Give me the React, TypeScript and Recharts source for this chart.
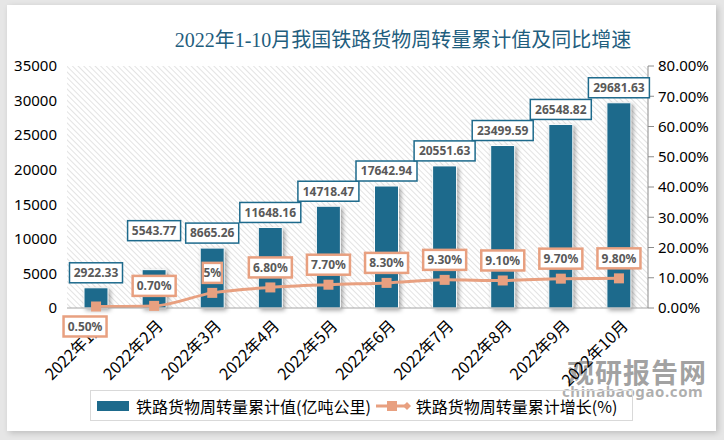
import React from 'react'
import {
  ComposedChart, Bar, Line, XAxis, YAxis, CartesianGrid, LabelList,
} from 'recharts'

// data
const months = ['2022年1月', '2022年2月', '2022年3月', '2022年4月', '2022年5月', '2022年6月', '2022年7月', '2022年8月', '2022年9月', '2022年10月']
const cumValues = [2922.33, 5543.77, 8665.26, 11648.16, 14718.47, 17642.94, 20551.63, 23499.59, 26548.82, 29681.63]
const growthValues = [0.5, 0.7, 5, 6.8, 7.7, 8.3, 9.3, 9.1, 9.7, 9.8]
const growthLabels = ['0.50%', '0.70%', '5%', '6.80%', '7.70%', '8.30%', '9.30%', '9.10%', '9.70%', '9.80%']
const leftTicks = [0, 5000, 10000, 15000, 20000, 25000, 30000, 35000]
const rightTicks = [0, 10, 20, 30, 40, 50, 60, 70, 80]

const data = months.map((m, i) => ({
  month: m,
  value: cumValues[i],
  growth: growthValues[i],
  label: growthLabels[i],
}))

const NAVY = '#1D6A8C'
const SALMON = '#E8A080'
const LABEL_FONT = '"Noto Sans", "DejaVu Sans", sans-serif'
const CJK = '"Noto Sans CJK SC", "Noto Sans", sans-serif'

// boxed label on top of the bars
const BarValueLabel = (props: any) => {
  const { x, y, width, value, index } = props
  const text = Number(value).toFixed(2)
  const w = text.length * 8 - 3
  const h = 20
  const cx = x + width / 2
  // 2月 label is lifted so it clears the growth label
  const bottom = y - 5 - (index === 1 ? 24 : 0)
  return (
    <g>
      <rect x={cx - w / 2} y={bottom - h} width={w} height={h} fill="#fff" stroke={NAVY} strokeWidth={1.5} />
      <text x={cx} y={bottom - h / 2} dy="0.36em" textAnchor="middle" fontSize={12} fontWeight={700}
        fontFamily={LABEL_FONT} fill="#595959">{text}</text>
    </g>
  )
}

const GrowthLabel = (props: any) => {
  const { x, y, index } = props
  const text = growthLabels[index]
  const w = text.length * 8 + 3
  const h = 20
  const below = index === 0
  const cx = below ? x - 11 : x
  const top = below ? y + 10 : y - 10 - h
  return (
    <g>
      <rect x={cx - w / 2} y={top} width={w} height={h} fill="#fff" stroke={SALMON} strokeWidth={2.5} />
      <text x={cx} y={top + h / 2} dy="0.36em" textAnchor="middle" fontSize={12} fontWeight={700}
        fontFamily={LABEL_FONT} fill="#595959">{text}</text>
    </g>
  )
}

const SquareDot = (props: any) => {
  const { cx, cy } = props
  if (cx == null || cy == null) return null
  return <rect x={cx - 5} y={cy - 5} width={10} height={10} fill={SALMON} />
}

export default function App() {
  return (
    <div style={{ position: 'absolute', left: 0, top: 0, width: 724, height: 440, background: '#e6e6e6', overflow: 'hidden' }}>
      <div style={{ position: 'absolute', left: 7, top: 5, width: 709, height: 426, background: '#fff', boxShadow: '2px 2px 6px rgba(0,0,0,0.18)' }} />

      <div style={{ position: 'absolute', left: 0, top: 24, width: 806, textAlign: 'center', fontFamily: '"Liberation Serif", "Noto Sans CJK SC", serif', fontSize: 20, color: '#1F5E7E', whiteSpace: 'nowrap' }}>
        2022年1-10月我国铁路货物周转量累计值及同比增速
      </div>

      {/* watermark, under the chart */}
      <div style={{ position: 'absolute', left: 567, top: 352, fontFamily: CJK, fontWeight: 700, fontSize: 27, color: 'rgba(120,120,120,0.7)', letterSpacing: 1 }}>观研报告网</div>
      <div style={{ position: 'absolute', left: 562, top: 381, fontFamily: LABEL_FONT, fontWeight: 700, fontSize: 15, color: 'rgba(140,140,140,0.7)', letterSpacing: 0.6 }}>chinabaogao.com</div>

      <div style={{ position: 'absolute', left: 0, top: 0 }}>
        <ComposedChart width={724} height={440} data={data} margin={{ top: 66, right: 0, left: 0, bottom: 52 }}>
          <defs>
            <pattern id="hatch" width="4" height="4" patternUnits="userSpaceOnUse" patternTransform="rotate(-45)">
              <rect width="4" height="4" fill="#fff" />
              <line x1="0" y1="0" x2="0" y2="4" stroke="#d4d4d4" strokeWidth="1.3" />
            </pattern>
          </defs>
          <CartesianGrid horizontal={false} vertical={false} fill="url(#hatch)" />
          <XAxis dataKey="month" interval={0} height={80} tickLine={false} axisLine={{ stroke: '#a6a6a6' }}
            angle={-45} textAnchor="end" tickMargin={5} dx={2}
            tick={{ fontSize: 16, fill: '#000', fontFamily: CJK }} />
          <YAxis yAxisId="left" width={67} domain={[0, 35000]} ticks={leftTicks} axisLine={false} tickLine={false}
            tickMargin={4} tick={{ fontSize: 15, fill: '#000', fontFamily: LABEL_FONT }} />
          <YAxis yAxisId="right" orientation="right" width={76} domain={[0, 80]} ticks={rightTicks}
            tickFormatter={(v: number) => `${v.toFixed(2)}%`}
            axisLine={{ stroke: '#8c8c8c' }} tickLine={{ stroke: '#8c8c8c' }} tickSize={6} tickMargin={4}
            tick={{ fontSize: 15, fill: '#000', fontFamily: LABEL_FONT, textAnchor: 'start' }} />
          <Bar yAxisId="left" dataKey="value" barSize={24} fill={NAVY} stroke="#fff" strokeWidth={1}
            style={{ filter: 'drop-shadow(2px 2px 2px rgba(0,0,0,0.35))' }} isAnimationActive={false}>
            <LabelList dataKey="value" content={BarValueLabel} />
          </Bar>
          <Line yAxisId="right" dataKey="growth" type="monotone" stroke={SALMON} strokeWidth={3}
            dot={SquareDot} activeDot={false} isAnimationActive={false}>
            <LabelList dataKey="label" content={GrowthLabel} />
          </Line>
        </ComposedChart>
      </div>

      {/* legend */}
      <div style={{ position: 'absolute', left: 90, top: 390, width: 541, height: 29, border: '1px solid #d9d9d9', background: 'transparent', display: 'flex', alignItems: 'center', fontFamily: CJK, fontSize: 16, color: '#000', whiteSpace: 'nowrap' }}>
        <span style={{ display: 'inline-block', width: 32, height: 10, background: NAVY, marginLeft: 6, marginRight: 7 }} />
        <span>铁路货物周转量累计值(亿吨公里)</span>
        <svg width={38} height={14} style={{ marginLeft: 4, marginRight: 3 }}>
          <line x1={1} y1={7} x2={34} y2={7} stroke={SALMON} strokeWidth={3} />
          <rect x={12} y={2} width={10} height={10} fill={SALMON} />
          <polygon points="32,3 36,7 32,11 28,7" fill={SALMON} />
        </svg>
        <span>铁路货物周转量累计增长(%)</span>
      </div>
    </div>
  )
}
